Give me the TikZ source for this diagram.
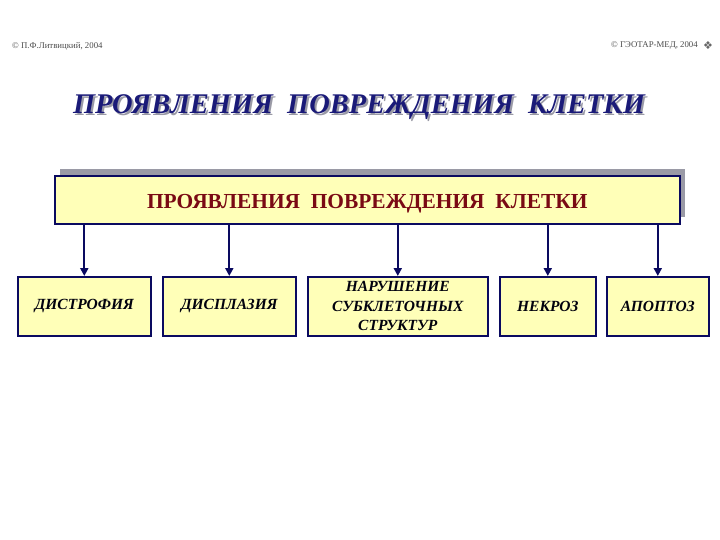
\documentclass[tikz,border=0pt]{standalone}
\usepackage{fontspec}
\setmainfont{Liberation Serif}
\newfontfamily\symfont{DejaVu Sans}
\usetikzlibrary{arrows.meta}
\definecolor{navy}{HTML}{0A0A60}
\definecolor{boxfill}{HTML}{FFFFB8}
\definecolor{dred}{HTML}{7A0A14}
\definecolor{ttl}{HTML}{1A1A78}
\definecolor{shd}{HTML}{9A9AA6}
\tikzset{
  catbox/.style={draw=navy, line width=1.6pt, fill=boxfill, inner sep=0pt, anchor=north west,
    font=\fontsize{15.5}{19.5}\selectfont\bfseries\itshape, text=black!85!navy, align=center},
  arr/.style={draw=navy, line width=2.2pt, -{Triangle[length=8pt,width=8pt]}},
  hdr/.style={font=\fontsize{8.8}{9}\selectfont, text=black!70, inner sep=0pt}
}
\begin{document}
\begin{tikzpicture}[x=1pt,y=-1pt]
\useasboundingbox[fill=white] (0,0) rectangle (720,540);
% header
\node[hdr, anchor=west] (hl) at (12,46) {© П.Ф.Литвицкий, 2004};
\node[hdr, anchor=east] (hr) at (698,46) {© ГЭОТАР-МЕД, 2004};
\node[inner sep=0pt, text=black!60, font=\symfont\fontsize{11}{11}\selectfont] (ic) at (708,46) {❖};
% title
\node[inner sep=0pt, text=shd, font=\fontsize{28.5}{30}\selectfont\bfseries\itshape] (tsh) at (361,109) {ПРОЯВЛЕНИЯ\ \ ПОВРЕЖДЕНИЯ\ \ КЛЕТКИ};
\node[inner sep=0pt, text=ttl, font=\fontsize{28.5}{30}\selectfont\bfseries\itshape] (title) at (359,107) {ПРОЯВЛЕНИЯ\ \ ПОВРЕЖДЕНИЯ\ \ КЛЕТКИ};
% main box
\fill[shd] (60,169) rectangle (685,217);
\node[draw=navy, line width=1.6pt, fill=boxfill, anchor=north west, minimum width=625pt, minimum height=48pt, inner sep=0pt,
  text height=18pt, text depth=0pt,
  text=dred, font=\fontsize{21.4}{23}\selectfont\bfseries] (main) at (54,175) {ПРОЯВЛЕНИЯ\ \ ПОВРЕЖДЕНИЯ\ \ КЛЕТКИ};
% category boxes
\node[catbox, minimum width=133pt, minimum height=59pt] (b1) at (17,276) {ДИСТРОФИЯ};
\node[catbox, minimum width=133pt, minimum height=59pt] (b2) at (162,276) {ДИСПЛАЗИЯ};
\node[catbox, minimum width=180pt, minimum height=59pt] (b3) at (307,276) {НАРУШЕНИЕ\\СУБКЛЕТОЧНЫХ\\СТРУКТУР};
\node[catbox, minimum width=96pt, minimum height=59pt] (b4) at (499,276) {НЕКРОЗ};
\node[catbox, minimum width=102pt, minimum height=59pt] (b5) at (606,276) {АПОПТОЗ};
% connectors
\foreach \b in {b1,b2,b3,b4,b5}{
  \draw[arr] (\b.north |- main.south) -- (\b.north);
}
\end{tikzpicture}
\end{document}
